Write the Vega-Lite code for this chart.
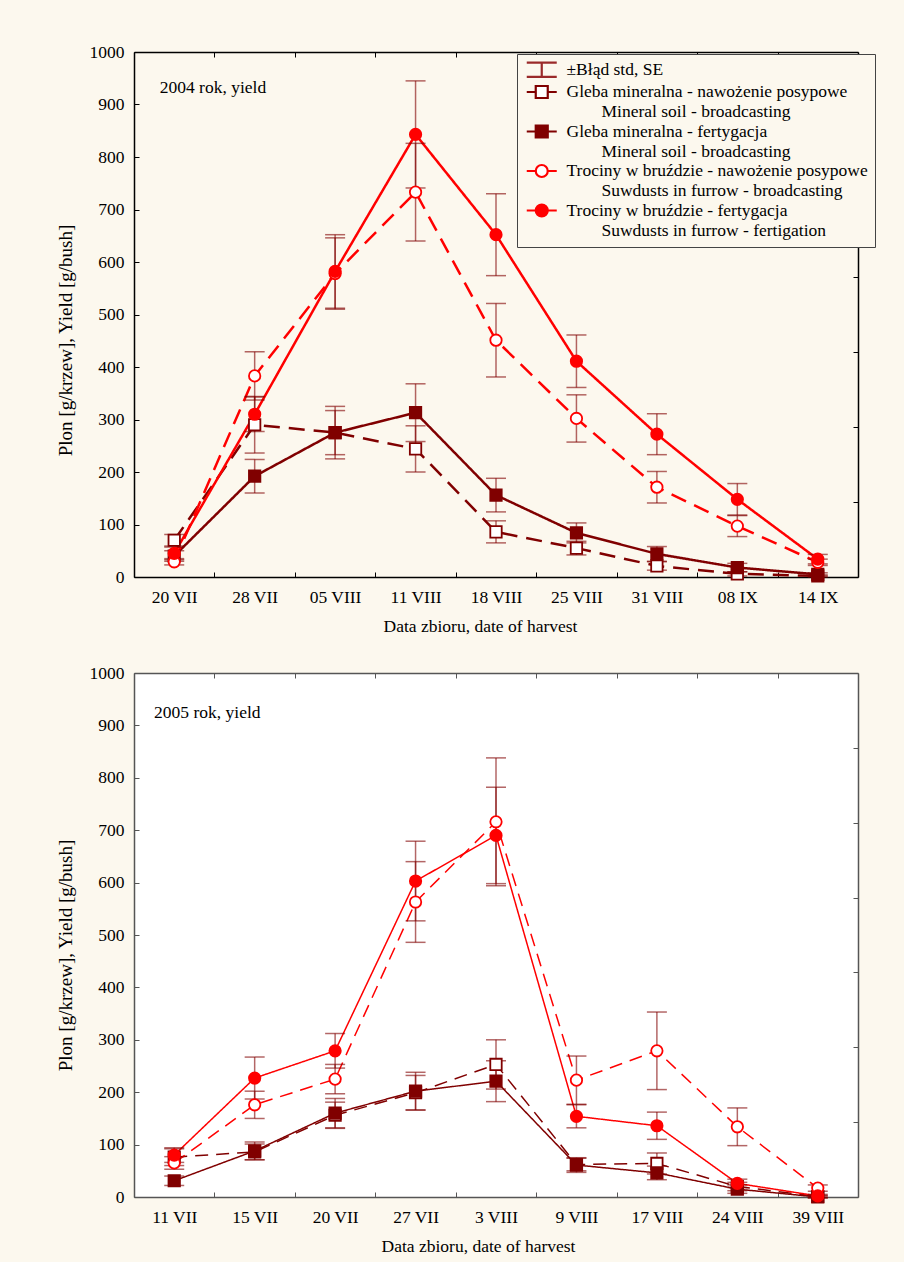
{
  "$schema": "https://vega.github.io/schema/vega-lite/v6.json",
  "background": "#FCF8EE",
  "padding": {"left": 56, "top": 43, "right": 40, "bottom": 30},
  "spacing": 29,
  "datasets": {
    "y2004": [
      {"date": "20 VII", "series": "A", "value": 70, "se": 11},
      {"date": "28 VII", "series": "A", "value": 290, "se": 54},
      {"date": "05 VIII", "series": "A", "value": 275, "se": 50},
      {"date": "11 VIII", "series": "A", "value": 244, "se": 44},
      {"date": "18 VIII", "series": "A", "value": 86, "se": 21},
      {"date": "25 VIII", "series": "A", "value": 55, "se": 13},
      {"date": "31 VIII", "series": "A", "value": 21, "se": 8},
      {"date": "08 IX", "series": "A", "value": 6, "se": 4},
      {"date": "14 IX", "series": "A", "value": 2, "se": 2},
      {"date": "20 VII", "series": "B", "value": 40, "se": 10},
      {"date": "28 VII", "series": "B", "value": 192, "se": 32},
      {"date": "05 VIII", "series": "B", "value": 275, "se": 42},
      {"date": "11 VIII", "series": "B", "value": 313, "se": 55},
      {"date": "18 VIII", "series": "B", "value": 156, "se": 32},
      {"date": "25 VIII", "series": "B", "value": 84, "se": 19},
      {"date": "31 VIII", "series": "B", "value": 44, "se": 14},
      {"date": "08 IX", "series": "B", "value": 18, "se": 8},
      {"date": "14 IX", "series": "B", "value": 5, "se": 3},
      {"date": "20 VII", "series": "C", "value": 29, "se": 6},
      {"date": "28 VII", "series": "C", "value": 383, "se": 46},
      {"date": "05 VIII", "series": "C", "value": 578, "se": 68},
      {"date": "11 VIII", "series": "C", "value": 733, "se": 93},
      {"date": "18 VIII", "series": "C", "value": 451, "se": 70},
      {"date": "25 VIII", "series": "C", "value": 302, "se": 45},
      {"date": "31 VIII", "series": "C", "value": 171, "se": 30},
      {"date": "08 IX", "series": "C", "value": 97, "se": 20},
      {"date": "14 IX", "series": "C", "value": 28, "se": 6},
      {"date": "20 VII", "series": "D", "value": 45, "se": 12},
      {"date": "28 VII", "series": "D", "value": 310, "se": 33},
      {"date": "05 VIII", "series": "D", "value": 582, "se": 70},
      {"date": "11 VIII", "series": "D", "value": 843, "se": 102},
      {"date": "18 VIII", "series": "D", "value": 652, "se": 78},
      {"date": "25 VIII", "series": "D", "value": 411, "se": 50},
      {"date": "31 VIII", "series": "D", "value": 272, "se": 39},
      {"date": "08 IX", "series": "D", "value": 148, "se": 30},
      {"date": "14 IX", "series": "D", "value": 34, "se": 9}
    ],
    "y2005": [
      {"date": "11 VII", "series": "A", "value": 76, "se": 16},
      {"date": "15 VII", "series": "A", "value": 86, "se": 15},
      {"date": "20 VII", "series": "A", "value": 156, "se": 25},
      {"date": "27 VII", "series": "A", "value": 199, "se": 33},
      {"date": "3 VIII", "series": "A", "value": 253, "se": 47},
      {"date": "9 VIII", "series": "A", "value": 62, "se": 12},
      {"date": "17 VIII", "series": "A", "value": 64, "se": 20},
      {"date": "24 VIII", "series": "A", "value": 20, "se": 8},
      {"date": "39 VIII", "series": "A", "value": 1, "se": 2},
      {"date": "11 VII", "series": "B", "value": 31, "se": 9},
      {"date": "15 VII", "series": "B", "value": 88, "se": 17},
      {"date": "20 VII", "series": "B", "value": 160, "se": 28},
      {"date": "27 VII", "series": "B", "value": 202, "se": 36},
      {"date": "3 VIII", "series": "B", "value": 221, "se": 39},
      {"date": "9 VIII", "series": "B", "value": 61, "se": 14},
      {"date": "17 VIII", "series": "B", "value": 46, "se": 13},
      {"date": "24 VIII", "series": "B", "value": 15, "se": 8},
      {"date": "39 VIII", "series": "B", "value": 0, "se": 2},
      {"date": "11 VII", "series": "C", "value": 65, "se": 12},
      {"date": "15 VII", "series": "C", "value": 176, "se": 26},
      {"date": "20 VII", "series": "C", "value": 225, "se": 28},
      {"date": "27 VII", "series": "C", "value": 563, "se": 77},
      {"date": "3 VIII", "series": "C", "value": 716, "se": 122},
      {"date": "9 VIII", "series": "C", "value": 223, "se": 46},
      {"date": "17 VIII", "series": "C", "value": 279, "se": 74},
      {"date": "24 VIII", "series": "C", "value": 134, "se": 36},
      {"date": "39 VIII", "series": "C", "value": 17, "se": 6},
      {"date": "11 VII", "series": "D", "value": 80, "se": 14},
      {"date": "15 VII", "series": "D", "value": 227, "se": 40},
      {"date": "20 VII", "series": "D", "value": 279, "se": 33},
      {"date": "27 VII", "series": "D", "value": 603, "se": 76},
      {"date": "3 VIII", "series": "D", "value": 690, "se": 92},
      {"date": "9 VIII", "series": "D", "value": 154, "se": 22},
      {"date": "17 VIII", "series": "D", "value": 136, "se": 26},
      {"date": "24 VIII", "series": "D", "value": 26, "se": 8},
      {"date": "39 VIII", "series": "D", "value": 2, "se": 3}
    ]
  },
  "vconcat": [
    {
      "width": 724,
      "height": 525,
      "layer": [
        {
          "data": {"name": "y2004"},
          "mark": {"type": "line", "strokeWidth": 2.5},
          "encoding": {
            "x": {"field": "date", "type": "ordinal", "sort": null,
              "scale": {"type": "band", "domain": ["20 VII", "28 VII", "05 VIII", "11 VIII", "18 VIII", "25 VIII", "31 VIII", "08 IX", "14 IX"], "paddingInner": 0, "paddingOuter": 0},
              "axis": {"title": "Data zbioru, date of harvest", "orient": "bottom", "labelAngle": 0, "tickBand": "extent", "labelPadding": 16, "titlePadding": 12, "titleX": 346}},
            "y": {"field": "value", "type": "quantitative",
              "scale": {"domain": [0, 1000], "nice": false, "zero": false},
              "axis": {"title": "Plon [g/krzew], Yield [g/bush]", "orient": "left", "format": "d", "values": [0, 100, 200, 300, 400, 500, 600, 700, 800, 900, 1000], "labelPadding": 15, "titlePadding": 14, "titleFontSize": 19, "titleY": 288}},
            "stroke": {"field": "series", "type": "nominal", "scale": {"domain": ["A", "B", "C", "D"], "range": ["#800000", "#800000", "#FF0000", "#FF0000"]}, "legend": null},
            "strokeDash": {"field": "series", "type": "nominal", "scale": {"domain": ["A", "B", "C", "D"], "range": [[16, 9], [1, 0], [16, 9], [1, 0]]}, "legend": null}
          }
        },
        {
          "data": {"name": "y2004"},
          "mark": {"type": "errorbar", "ticks": true, "size": 20, "thickness": 1.5, "color": "#800000", "opacity": 0.6},
          "encoding": {
            "x": {"field": "date", "type": "ordinal", "sort": null, "axis": null},
            "y": {"field": "value", "type": "quantitative", "axis": null},
            "yError": {"field": "se"}
          }
        },
        {
          "data": {"name": "y2004"},
          "mark": {"type": "point", "opacity": 1, "strokeWidth": 1.8, "size": 130},
          "encoding": {
            "x": {"field": "date", "type": "ordinal", "sort": null,
              "axis": {"orient": "top", "labels": false, "title": null, "tickBand": "extent"}},
            "y": {"field": "value", "type": "quantitative",
              "axis": {"orient": "right", "labels": false, "title": null, "values": [142.857, 285.714, 428.571, 571.429, 714.286, 857.143]}},
            "shape": {"field": "series", "type": "nominal", "scale": {"domain": ["A", "B", "C", "D"], "range": ["square", "square", "circle", "circle"]}, "legend": null},
            "fill": {"field": "series", "type": "nominal", "scale": {"domain": ["A", "B", "C", "D"], "range": ["#FFFFFF", "#800000", "#FFFFFF", "#FF0000"]}, "legend": null},
            "stroke": {"field": "series", "type": "nominal", "scale": {"domain": ["A", "B", "C", "D"], "range": ["#800000", "#800000", "#FF0000", "#FF0000"]}, "legend": null}
          }
        },
        {
          "data": {"values": [{"note": "2004 rok, yield"}]},
          "mark": {"type": "text", "align": "left", "baseline": "middle", "font": "Liberation Serif", "fontSize": 17.5, "color": "#000"},
          "encoding": {
            "x": {"datum": "20 VII", "type": "ordinal", "bandPosition": 0.32, "axis": null},
            "y": {"datum": 931, "type": "quantitative", "axis": null},
            "text": {"field": "note"}
          }
        },
        {
          "data": {"values": [{"key": "k0"}, {"key": "k1"}, {"key": "k1b"}, {"key": "k2"}, {"key": "k2b"}, {"key": "k3"}, {"key": "k3b"}, {"key": "k4"}, {"key": "k4b"}]},
          "transform": [{"filter": "false"}],
          "mark": {"type": "point", "opacity": 1, "strokeWidth": 2.2, "size": 144},
          "encoding": {
            "shape": {"field": "key", "type": "nominal",
              "scale": {"domain": ["k0", "k1", "k1b", "k2", "k2b", "k3", "k3b", "k4", "k4b"],
                "range": [
                  "M-1,-1.2H4M1.5,-1.2V1.2M-1,1.2H4",
                  "M-1,0H0.5M2.5,0H4M0.5,-1H2.5V1H0.5Z",
                  "M0,0",
                  "M-1,0H0.5M2.5,0H4M0.5,-1H2.5V1H0.5Z",
                  "M0,0",
                  "M-1,0H0.5M2.5,0H4M2.5,0C2.5,0.5523 2.0523,1 1.5,1C0.9477,1 0.5,0.5523 0.5,0C0.5,-0.5523 0.9477,-1 1.5,-1C2.0523,-1 2.5,-0.5523 2.5,0Z",
                  "M0,0",
                  "M-1,0H0.5M2.5,0H4M2.5,0C2.5,0.5523 2.0523,1 1.5,1C0.9477,1 0.5,0.5523 0.5,0C0.5,-0.5523 0.9477,-1 1.5,-1C2.0523,-1 2.5,-0.5523 2.5,0Z",
                  "M0,0"
                ]},
              "legend": {
                "title": null, "orient": "none", "legendX": 383, "legendY": 2, "padding": 7,
                "fillColor": "#FCF8EE", "strokeColor": "#444",
                "labelFont": "Liberation Serif", "labelFontSize": 17.5, "labelColor": "#000", "labelLimit": 600,
                "labelOffset": 25, "rowPadding": -0.75, "symbolSize": 144, "symbolStrokeWidth": 2.2,
                "labelExpr": "{'k0': '±Błąd std, SE', 'k1': 'Gleba mineralna - nawożenie posypowe', 'k1b': '\u200b\u00a0\u00a0\u00a0\u00a0\u00a0\u00a0\u00a0\u00a0Mineral soil - broadcasting', 'k2': 'Gleba mineralna - fertygacja', 'k2b': '\u200b\u00a0\u00a0\u00a0\u00a0\u00a0\u00a0\u00a0\u00a0Mineral soil - broadcasting', 'k3': 'Trociny w bruździe - nawożenie posypowe', 'k3b': '\u200b\u00a0\u00a0\u00a0\u00a0\u00a0\u00a0\u00a0\u00a0Suwdusts in furrow - broadcasting', 'k4': 'Trociny w bruździe - fertygacja', 'k4b': '\u200b\u00a0\u00a0\u00a0\u00a0\u00a0\u00a0\u00a0\u00a0Suwdusts in furrow - fertigation'}[datum.label]"
              }},
            "fill": {"field": "key", "type": "nominal",
              "scale": {"domain": ["k0", "k1", "k1b", "k2", "k2b", "k3", "k3b", "k4", "k4b"],
                "range": ["transparent", "#FFFFFF", "transparent", "#800000", "transparent", "#FFFFFF", "transparent", "#FF0000", "transparent"]}},
            "stroke": {"field": "key", "type": "nominal",
              "scale": {"domain": ["k0", "k1", "k1b", "k2", "k2b", "k3", "k3b", "k4", "k4b"],
                "range": ["#9A2A2A", "#800000", "transparent", "#800000", "transparent", "#FF0000", "transparent", "#FF0000", "transparent"]}}
          }
        }
      ],
      "resolve": {
        "scale": {"shape": "independent", "fill": "independent", "stroke": "independent", "strokeDash": "independent"},
        "axis": {"x": "independent", "y": "independent"}
      }
    },
    {
      "width": 724,
      "height": 524,
      "layer": [
        {
          "data": {"name": "y2005"},
          "mark": {"type": "line", "strokeWidth": 1.5},
          "encoding": {
            "x": {"field": "date", "type": "ordinal", "sort": null,
              "scale": {"type": "band", "domain": ["11 VII", "15 VII", "20 VII", "27 VII", "3 VIII", "9 VIII", "17 VIII", "24 VIII", "39 VIII"], "paddingInner": 0, "paddingOuter": 0},
              "axis": {"title": "Data zbioru, date of harvest", "orient": "bottom", "labelAngle": 0, "tickBand": "extent", "labelPadding": 16, "titlePadding": 12, "titleX": 344, "domainColor": "#555", "tickColor": "#555"}},
            "y": {"field": "value", "type": "quantitative",
              "scale": {"domain": [0, 1000], "nice": false, "zero": false},
              "axis": {"title": "Plon [g/krzew], Yield [g/bush]", "orient": "left", "format": "d", "values": [0, 100, 200, 300, 400, 500, 600, 700, 800, 900, 1000], "labelPadding": 15, "titlePadding": 14, "titleFontSize": 19, "titleY": 282, "domainColor": "#555", "tickColor": "#555"}},
            "stroke": {"field": "series", "type": "nominal", "scale": {"domain": ["A", "B", "C", "D"], "range": ["#800000", "#800000", "#FF0000", "#FF0000"]}, "legend": null},
            "strokeDash": {"field": "series", "type": "nominal", "scale": {"domain": ["A", "B", "C", "D"], "range": [[13, 8], [1, 0], [13, 8], [1, 0]]}, "legend": null}
          }
        },
        {
          "data": {"name": "y2005"},
          "mark": {"type": "errorbar", "ticks": true, "size": 20, "thickness": 1.5, "color": "#800000", "opacity": 0.6},
          "encoding": {
            "x": {"field": "date", "type": "ordinal", "sort": null, "axis": null},
            "y": {"field": "value", "type": "quantitative", "axis": null},
            "yError": {"field": "se"}
          }
        },
        {
          "data": {"name": "y2005"},
          "mark": {"type": "point", "opacity": 1, "strokeWidth": 1.8, "size": 130},
          "encoding": {
            "x": {"field": "date", "type": "ordinal", "sort": null,
              "axis": {"orient": "top", "labels": false, "title": null, "tickBand": "extent", "domainColor": "#555", "tickColor": "#555"}},
            "y": {"field": "value", "type": "quantitative",
              "axis": {"orient": "right", "labels": false, "title": null, "values": [142.857, 285.714, 428.571, 571.429, 714.286, 857.143], "domainColor": "#555", "tickColor": "#555"}},
            "shape": {"field": "series", "type": "nominal", "scale": {"domain": ["A", "B", "C", "D"], "range": ["square", "square", "circle", "circle"]}, "legend": null},
            "fill": {"field": "series", "type": "nominal", "scale": {"domain": ["A", "B", "C", "D"], "range": ["#FFFFFF", "#800000", "#FFFFFF", "#FF0000"]}, "legend": null},
            "stroke": {"field": "series", "type": "nominal", "scale": {"domain": ["A", "B", "C", "D"], "range": ["#800000", "#800000", "#FF0000", "#FF0000"]}, "legend": null}
          }
        },
        {
          "data": {"values": [{"note": "2005 rok, yield"}]},
          "mark": {"type": "text", "align": "left", "baseline": "middle", "font": "Liberation Serif", "fontSize": 17.5, "color": "#000"},
          "encoding": {
            "x": {"datum": "11 VII", "type": "ordinal", "bandPosition": 0.25, "axis": null},
            "y": {"datum": 924, "type": "quantitative", "axis": null},
            "text": {"field": "note"}
          }
        }
      ],
      "resolve": {
        "scale": {"shape": "independent", "fill": "independent", "stroke": "independent", "strokeDash": "independent"},
        "axis": {"x": "independent", "y": "independent"}
      }
    }
  ],
  "config": {
    "view": {"fill": "#FFFFFF", "stroke": null},
    "font": "Liberation Serif",
    "axis": {
      "labelFont": "Liberation Serif", "labelFontSize": 17.5, "labelColor": "#000",
      "titleFont": "Liberation Serif", "titleFontSize": 17.5, "titleFontWeight": "normal", "titleColor": "#000",
      "domainColor": "#000", "domainWidth": 1.5, "tickColor": "#000", "tickWidth": 1, "tickSize": -5, "grid": false
    }
  }
}
